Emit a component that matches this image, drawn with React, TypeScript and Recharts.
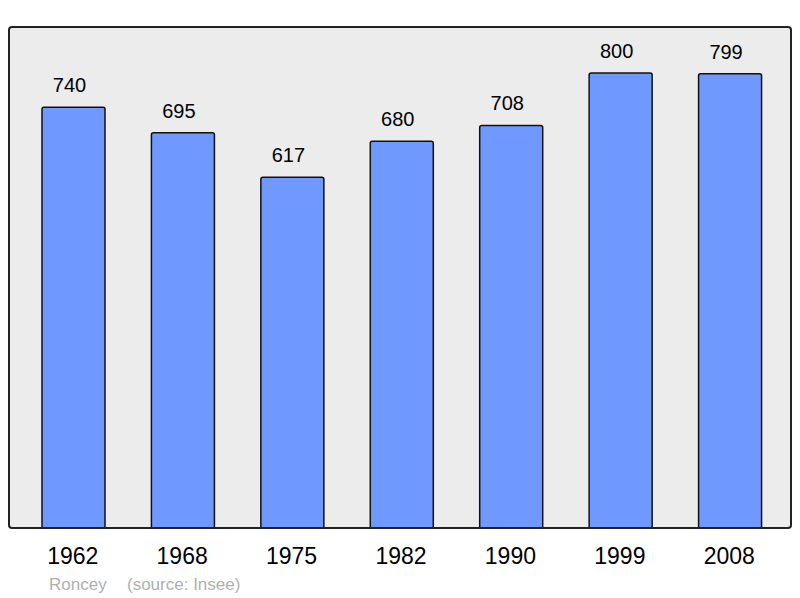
import { BarChart, Bar, XAxis, YAxis, CartesianGrid, LabelList } from "recharts";

const years = ["1962", "1968", "1975", "1982", "1990", "1999", "2008"];
const population = [740, 695, 617, 680, 708, 800, 799];
const townName = "Roncey";
const sourceNote = "(source: Insee)";

const data = years.map((year, i) => ({ year, population: population[i] }));

const font = "'Liberation Sans', Arial, sans-serif";

export default function App() {
  return (
    <div style={{ position: "absolute", left: 0, top: 0, width: 800, height: 598, fontFamily: font }}>
      <BarChart
        width={800}
        height={598}
        data={data}
        margin={{ top: 27, right: 9, bottom: 0, left: 9 }}
        barCategoryGap={0}
      >
        <CartesianGrid horizontal={false} vertical={false} fill="#ececec" />
        <YAxis hide domain={[0, 881]} />
        <XAxis
          dataKey="year"
          height={70}
          axisLine={false}
          tickLine={false}
          tickSize={6}
          tickMargin={14}
          interval={0}
          padding={{ left: 10, right: 6 }}
          tick={{ fontSize: 23, fill: "#000", fontFamily: font, dx: -1 }}
        />
        <Bar
          dataKey="population"
          barSize={63}
          fill="#7099ff"
          stroke="#111"
          strokeWidth={1.5}
          radius={[2, 2, 0, 0]}
          isAnimationActive={false}
        >
          <LabelList
            dataKey="population"
            position="top"
            offset={15}
            dx={-4}
            fill="#000"
            fontSize={20}
            fontFamily={font}
          />
        </Bar>
      </BarChart>
      <div
        style={{
          position: "absolute",
          left: 8,
          top: 26,
          width: 780,
          height: 499,
          border: "2px solid #222",
          borderRadius: 4,
          pointerEvents: "none",
        }}
      />
      <span style={{ position: "absolute", left: 49, top: 576, fontSize: 17, lineHeight: "17px", color: "#b0b0b0" }}>
        {townName}
      </span>
      <span style={{ position: "absolute", left: 127, top: 576, fontSize: 17, lineHeight: "17px", color: "#b0b0b0" }}>
        {sourceNote}
      </span>
    </div>
  );
}
